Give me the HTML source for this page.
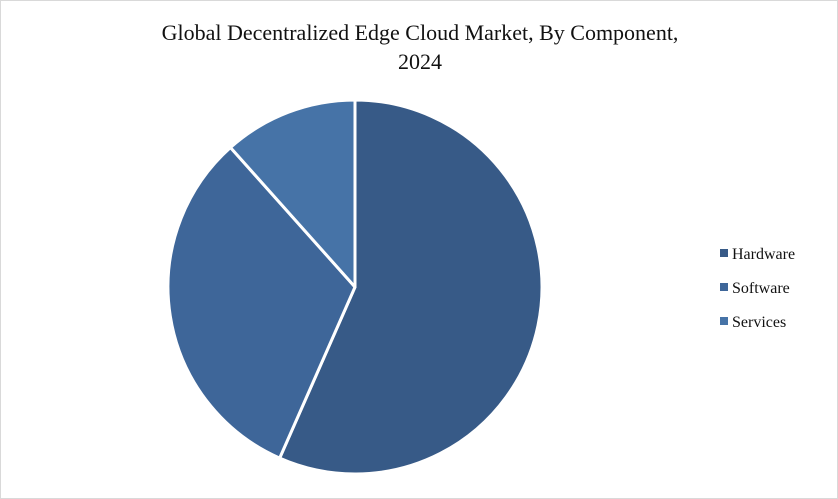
<!DOCTYPE html>
<html><head><meta charset="utf-8"><style>
html,body{margin:0;padding:0;background:#fff}
#wrap{position:relative;width:838px;height:499px;overflow:hidden}
.t{font-family:"Liberation Serif",serif;fill:#111}
</style></head><body>
<div id="wrap">
<svg id="svg" width="838" height="499">
<rect x="0.5" y="0.5" width="837" height="498" fill="#fff" stroke="#d9d9d9"/>
<text class="t" x="420" y="40" text-anchor="middle" font-size="22">Global Decentralized Edge Cloud Market, By Component,</text>
<text class="t" x="420" y="69" text-anchor="middle" font-size="22">2024</text>
<g id="slices"></g>
<g id="legend"></g>
</svg>
</div>
<script>
const categories = ["Hardware","Software","Services"];
const values = [56.6, 31.8, 11.6];
const colors = ["#375a87","#3e6699","#4673a7"];
const cx=355, cy=287, r=187;
const ns="http://www.w3.org/2000/svg";
const g=document.getElementById('slices');
const total=values.reduce((a,b)=>a+b,0);
let a0=0;
function pt(a){return [cx+r*Math.sin(a), cy-r*Math.cos(a)];}
values.forEach((v,i)=>{
  const a1=a0+v/total*2*Math.PI;
  const p0=pt(a0), p1=pt(a1);
  const large=(a1-a0)>Math.PI?1:0;
  const p=document.createElementNS(ns,'path');
  p.setAttribute('d',`M${cx},${cy}L${p0[0]},${p0[1]}A${r},${r} 0 ${large} 1 ${p1[0]},${p1[1]}Z`);
  p.setAttribute('fill',colors[i]);
  p.setAttribute('stroke','#fff');
  p.setAttribute('stroke-width','3');
  p.setAttribute('stroke-linejoin','round');
  
  
  g.appendChild(p);
  a0=a1;
});
const lg=document.getElementById('legend');
categories.forEach((c,i)=>{
  const y=254+i*34;
  const s=document.createElementNS(ns,'rect');
  s.setAttribute('x',720);s.setAttribute('y',y-5);s.setAttribute('width',8);s.setAttribute('height',8);
  s.setAttribute('fill',colors[i]);
  
  
  lg.appendChild(s);
  const t=document.createElementNS(ns,'text');
  t.setAttribute('x',732);t.setAttribute('y',y+5);t.setAttribute('class','t');t.setAttribute('font-size','16');
  t.textContent=c;
  
  
  lg.appendChild(t);
});
</script>
</body></html>
